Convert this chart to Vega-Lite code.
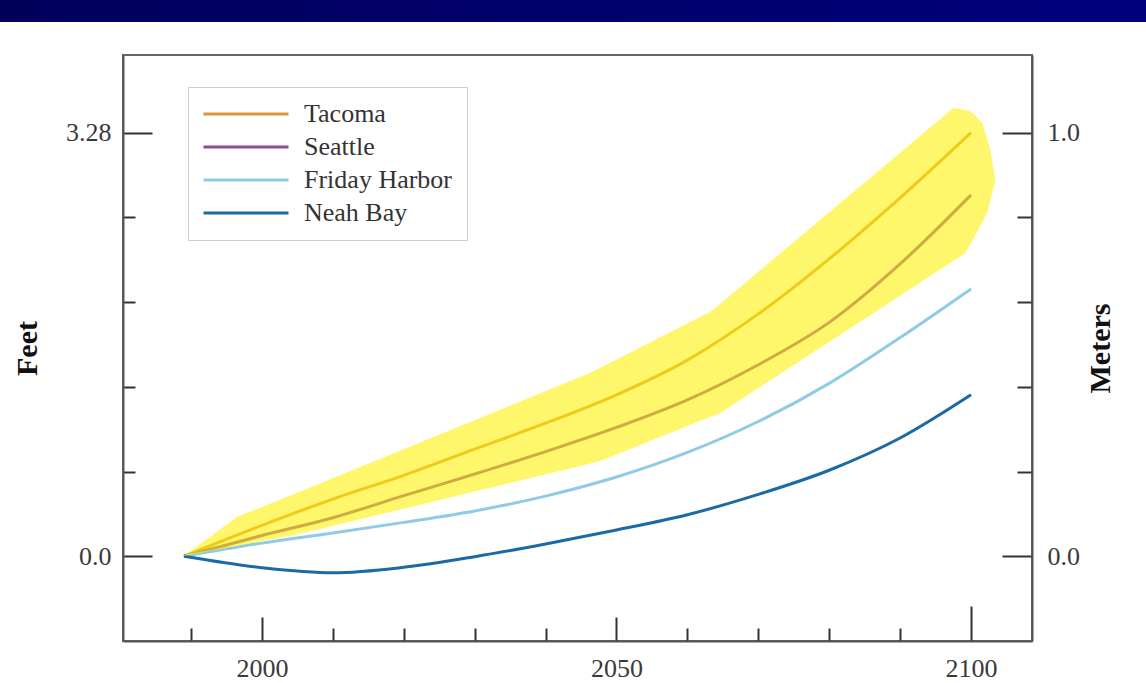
{
  "$schema": "https://vega.github.io/schema/vega-lite/v6.json",
  "width": 909,
  "height": 586,
  "autosize": {"type": "none"},
  "padding": {"left": 123, "top": 55, "right": 114, "bottom": 42},
  "background": "white",
  "config": {
    "view": {"stroke": "#666666", "strokeWidth": 2},
    "font": "Liberation Serif",
    "axis": {
      "labelFont": "Liberation Serif",
      "labelFontSize": 26,
      "labelColor": "#3a3a3a",
      "titleFont": "Liberation Serif",
      "titleFontSize": 30,
      "titleFontWeight": "bold",
      "titleColor": "#111111",
      "domainColor": "#555555",
      "domainWidth": 2,
      "tickColor": "#333333",
      "tickWidth": 2,
      "tickSize": 0,
      "grid": false,
      "labelFlush": false,
      "labelOverlap": false
    }
  },
  "datasets": {
    "series": [
      {"site": "Tacoma", "year": 1989, "rise": 0},
      {"site": "Tacoma", "year": 2000, "rise": 0.073},
      {"site": "Tacoma", "year": 2010, "rise": 0.135},
      {"site": "Tacoma", "year": 2020, "rise": 0.191},
      {"site": "Tacoma", "year": 2030, "rise": 0.253},
      {"site": "Tacoma", "year": 2040, "rise": 0.314},
      {"site": "Tacoma", "year": 2050, "rise": 0.381},
      {"site": "Tacoma", "year": 2060, "rise": 0.463},
      {"site": "Tacoma", "year": 2070, "rise": 0.572},
      {"site": "Tacoma", "year": 2080, "rise": 0.702},
      {"site": "Tacoma", "year": 2090, "rise": 0.846},
      {"site": "Tacoma", "year": 2100, "rise": 1.0},
      {"site": "Seattle", "year": 1989, "rise": 0},
      {"site": "Seattle", "year": 2000, "rise": 0.049},
      {"site": "Seattle", "year": 2010, "rise": 0.091},
      {"site": "Seattle", "year": 2020, "rise": 0.143},
      {"site": "Seattle", "year": 2030, "rise": 0.194},
      {"site": "Seattle", "year": 2040, "rise": 0.247},
      {"site": "Seattle", "year": 2050, "rise": 0.304},
      {"site": "Seattle", "year": 2060, "rise": 0.369},
      {"site": "Seattle", "year": 2070, "rise": 0.452},
      {"site": "Seattle", "year": 2080, "rise": 0.552},
      {"site": "Seattle", "year": 2090, "rise": 0.69},
      {"site": "Seattle", "year": 2100, "rise": 0.853},
      {"site": "Friday Harbor", "year": 1989, "rise": 0},
      {"site": "Friday Harbor", "year": 2000, "rise": 0.031},
      {"site": "Friday Harbor", "year": 2010, "rise": 0.055},
      {"site": "Friday Harbor", "year": 2020, "rise": 0.08},
      {"site": "Friday Harbor", "year": 2030, "rise": 0.107},
      {"site": "Friday Harbor", "year": 2040, "rise": 0.142},
      {"site": "Friday Harbor", "year": 2050, "rise": 0.187},
      {"site": "Friday Harbor", "year": 2060, "rise": 0.245},
      {"site": "Friday Harbor", "year": 2070, "rise": 0.318},
      {"site": "Friday Harbor", "year": 2080, "rise": 0.408},
      {"site": "Friday Harbor", "year": 2090, "rise": 0.516},
      {"site": "Friday Harbor", "year": 2100, "rise": 0.631},
      {"site": "Neah Bay", "year": 1989, "rise": 0},
      {"site": "Neah Bay", "year": 2000, "rise": -0.027},
      {"site": "Neah Bay", "year": 2010, "rise": -0.039},
      {"site": "Neah Bay", "year": 2020, "rise": -0.026},
      {"site": "Neah Bay", "year": 2030, "rise": -0.001},
      {"site": "Neah Bay", "year": 2040, "rise": 0.029},
      {"site": "Neah Bay", "year": 2050, "rise": 0.062},
      {"site": "Neah Bay", "year": 2060, "rise": 0.098},
      {"site": "Neah Bay", "year": 2070, "rise": 0.146},
      {"site": "Neah Bay", "year": 2080, "rise": 0.203},
      {"site": "Neah Bay", "year": 2090, "rise": 0.279},
      {"site": "Neah Bay", "year": 2100, "rise": 0.381}
    ],
    "band": [
      {"year": 1988.91, "low": 0, "high": 0},
      {"year": 1996.53, "low": 0.025, "high": 0.093},
      {"year": 2005.41, "low": 0.053, "high": 0.153},
      {"year": 2046.31, "low": 0.219, "high": 0.433},
      {"year": 2047.72, "low": 0.225, "high": 0.445},
      {"year": 2063.24, "low": 0.329, "high": 0.577},
      {"year": 2064.65, "low": 0.338, "high": 0.596},
      {"year": 2097.51, "low": 0.697, "high": 1.058},
      {"year": 2099.2, "low": 0.716, "high": 1.053},
      {"year": 2099.91, "low": 0.737, "high": 1.051},
      {"year": 2101.6, "low": 0.789, "high": 1.023},
      {"year": 2102.3, "low": 0.81, "high": 0.983},
      {"year": 2102.73, "low": 0.84, "high": 0.959},
      {"year": 2103.44, "low": 0.888, "high": 0.888}
    ]
  },
  "layer": [
    {
      "data": {"name": "series"},
      "mark": {"type": "line", "interpolate": "monotone", "strokeCap": "butt"},
      "encoding": {
        "x": {
          "field": "year",
          "type": "quantitative",
          "scale": {"domain": [1980.4, 2108.6], "nice": false, "zero": false},
          "axis": {
            "orient": "bottom",
            "values": [1990, 2000, 2010, 2020, 2030, 2040, 2050, 2060, 2070, 2080, 2090, 2100],
            "labelExpr": "datum.value == 2000 ? '2000' : (datum.value == 2050 ? '2050' : (datum.value == 2100 ? '2100' : ''))",
            "labelPadding": 14,
            "title": null,
            "encoding": {
              "ticks": {
                "y2": {
                  "condition": [
                    {"test": "datum.value == 2100", "value": -35},
                    {"test": "datum.value == 2000 || datum.value == 2050", "value": -24}
                  ],
                  "value": -13
                }
              }
            }
          }
        },
        "y": {
          "field": "rise",
          "type": "quantitative",
          "scale": {"domain": [-0.2, 1.183], "nice": false, "zero": false},
          "axis": {
            "orient": "left",
            "values": [0, 0.2, 0.4, 0.6, 0.8, 1],
            "labelExpr": "datum.value == 1 ? '3.28' : (datum.value == 0 ? '0.0' : '')",
            "labelPadding": 12,
            "title": "Feet",
            "titlePadding": 23,
            "encoding": {
              "ticks": {
                "x2": {
                  "condition": {"test": "datum.value == 0 || datum.value == 1", "value": 29},
                  "value": 12
                }
              }
            }
          }
        },
        "color": {
          "field": "site",
          "type": "nominal",
          "scale": {
            "domain": ["Tacoma", "Seattle", "Friday Harbor", "Neah Bay"],
            "range": ["#d9963c", "#8c4a9e", "#8fcbe6", "#1c6aa5"]
          },
          "legend": {
            "orient": "none",
            "legendX": 65,
            "legendY": 32,
            "title": null,
            "symbolType": "stroke",
            "symbolSize": 7225,
            "symbolStrokeWidth": 4,
            "clipHeight": 26,
            "labelFont": "Liberation Serif",
            "labelFontSize": 26,
            "labelColor": "#333333",
            "strokeColor": "#cfcfcf",
            "fillColor": "white",
            "padding": 14,
            "labelOffset": 14,
            "rowPadding": 7
          }
        },
        "strokeWidth": {
          "field": "site",
          "type": "nominal",
          "scale": {
            "domain": ["Tacoma", "Seattle", "Friday Harbor", "Neah Bay"],
            "range": [3, 3, 3, 4]
          },
          "legend": null
        }
      }
    },
    {
      "data": {"name": "band"},
      "mark": {"type": "area", "color": "#fff200", "opacity": 0.58},
      "encoding": {
        "x": {"field": "year", "type": "quantitative"},
        "y": {
          "field": "high",
          "type": "quantitative",
          "axis": {
            "orient": "right",
            "values": [0, 0.2, 0.4, 0.6, 0.8, 1],
            "labelExpr": "datum.value == 1 ? '1.0' : (datum.value == 0 ? '0.0' : '')",
            "labelPadding": 15,
            "title": "Meters",
            "titleAngle": -90,
            "titleBaseline": "top",
            "titlePadding": 6,
            "encoding": {
              "ticks": {
                "x2": {
                  "condition": {"test": "datum.value == 0 || datum.value == 1", "value": -30},
                  "value": -15
                }
              }
            }
          }
        },
        "y2": {"field": "low"}
      }
    },
    {
      "data": {"values": [{}]},
      "mark": {
        "type": "rect",
        "clip": false,
        "fill": {
          "gradient": "linear",
          "x1": 0, "y1": 0, "x2": 1, "y2": 0,
          "stops": [
            {"offset": 0, "color": "#000058"},
            {"offset": 1, "color": "#000080"}
          ]
        }
      },
      "encoding": {
        "x": {"datum": 1950, "type": "quantitative"},
        "x2": {"datum": 2140},
        "y": {"datum": 1.45, "type": "quantitative", "axis": null},
        "y2": {"datum": 1.261}
      }
    }
  ],
  "resolve": {"axis": {"y": "independent"}}
}
